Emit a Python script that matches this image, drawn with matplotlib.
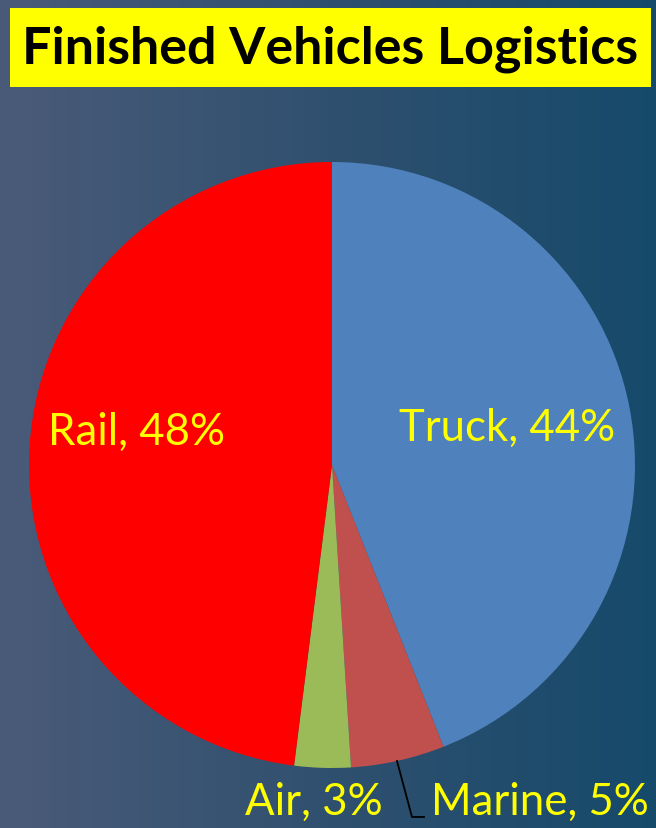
import numpy as np
import matplotlib.pyplot as plt
from matplotlib.colors import LinearSegmentedColormap
from matplotlib.patches import Rectangle

# data
categories = ['Truck', 'Marine', 'Air', 'Rail']
shares = [44, 5, 3, 48]
colors = ['#4f81bd', '#c0504d', '#9bbb59', '#ff0000']
title = 'Finished Vehicles Logistics'

W, H = 656, 829
fig = plt.figure(figsize=(W / 100, H / 100), dpi=100)
ax = fig.add_axes([0, 0, 1, 1])
ax.set_xlim(0, W)
ax.set_ylim(0, H)
ax.axis('off')

# fond en dégradé
cmap = LinearSegmentedColormap.from_list('bg', ['#4a5b79', '#30506f', '#164a6b'])
grad = np.linspace(0, 1, 256).reshape(1, -1)
ax.imshow(grad, cmap=cmap, extent=[0, W, 0, H], aspect='auto', zorder=0)

# titre
ax.add_patch(Rectangle((10, H - 88), 641, 79, facecolor='#ffff00', edgecolor='none', zorder=2))
ax.text(330, H - 49, title, ha='center', va='center', fontsize=37.5, fontweight='bold',
        family='Lato', color='black', zorder=3)

# camembert
ax.pie(shares, colors=colors, startangle=90, counterclock=False,
       center=(332, H - 466), radius=303, frame=True,
       wedgeprops=dict(linewidth=0, zorder=1))
ax.set_xlim(0, W)
ax.set_ylim(0, H)
ax.set_aspect('auto')
ax.axis('off')

label_pos = [(507, 428), (540, 802), (314, 802), (136, 432)]
for cat, val, (px, py) in zip(categories, shares, label_pos):
    ax.text(px, H - py, f'{cat}, {val}%', ha='center', va='center', fontsize=31.5,
            family='Lato', color='#ffff00', zorder=3)

# ligne de rappel Marine
ax.plot([397, 412, 424], [H - 762, H - 818, H - 818], color='black', lw=1.3, zorder=3)

fig.savefig('out.png', dpi=100)
